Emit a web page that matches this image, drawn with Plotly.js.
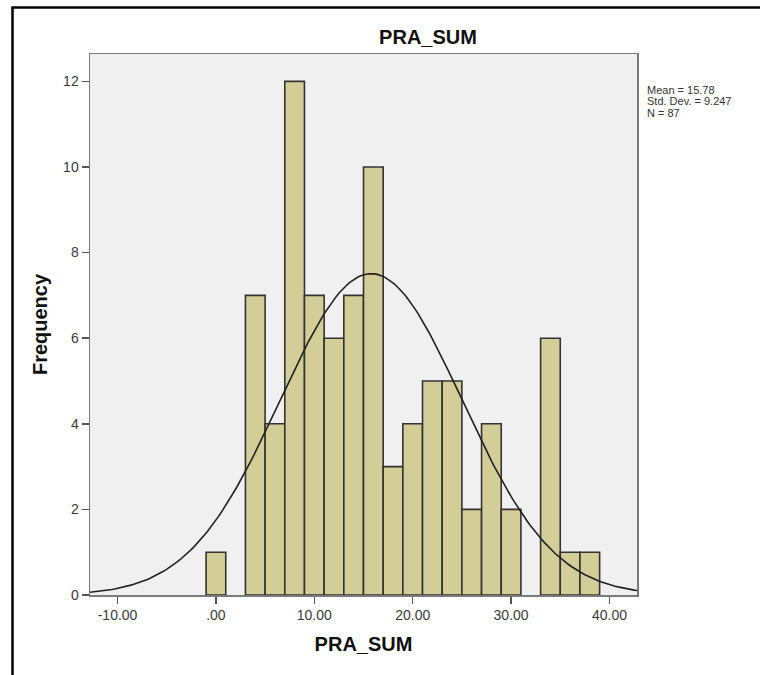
<!DOCTYPE html>
<html>
<head>
<meta charset="utf-8">
<script src="https://cdn.plot.ly/plotly-3.0.1.min.js"></script>
<style>html,body{margin:0;padding:0;background:#fff;}#chart{width:760px;height:675px;}</style>
</head>
<body>
<div id="chart"></div>
<script>
// Histogram bins (centres, width 2) and frequencies
var binCenters = [0, 4, 6, 8, 10, 12, 14, 16, 18, 20, 22, 24, 26, 28, 30, 34, 36, 38];
var frequencies = [1, 7, 4, 12, 7, 6, 7, 10, 3, 4, 5, 5, 2, 4, 2, 6, 1, 1];
var binWidth = 2;

// Summary statistics shown in the chart
var meanValue = 15.78;
var stdDev = 9.247;
var nCount = 87;
var statsLines = ["Mean = 15.78", "Std. Dev. = 9.247", "N = 87"];

// Axis ticks
var xTickVals = [-10, 0, 10, 20, 30, 40];
var xTickText = ["-10.00", ".00", "10.00", "20.00", "30.00", "40.00"];
var yTickVals = [0, 2, 4, 6, 8, 10, 12];
var yTickText = ["0", "2", "4", "6", "8", "10", "12"];

var xRange = [-12.8, 42.8];
var yRange = [0, 12.64];

// Fitted normal curve (scaled to counts) from the mean, std. dev. and N
var curveX = [], curveY = [];
for (var i = 0; i <= 200; i++) {
  var xv = xRange[0] + (xRange[1] - xRange[0]) * i / 200;
  curveX.push(xv);
  var z = (xv - meanValue) / stdDev;
  curveY.push(nCount * binWidth / (stdDev * Math.sqrt(2 * Math.PI)) * Math.exp(-0.5 * z * z));
}

var bars = {
  type: 'bar',
  x: binCenters,
  y: frequencies,
  width: binWidth,
  marker: {color: '#d3ce97', line: {color: '#333333', width: 1.6}},
  hoverinfo: 'x+y'
};
var curve = {
  type: 'scatter',
  mode: 'lines',
  x: curveX,
  y: curveY,
  line: {color: '#222222', width: 1.6},
  hoverinfo: 'skip'
};

var L = 90, R = 637, T = 54, B = 595;
function px2x(p) { return (p - L) / (R - L); }
function py2y(p) { return (B - p) / (B - T); }

var annotations = [];
var statY = [89.5, 101, 112.5];
for (var k = 0; k < statsLines.length; k++) {
  annotations.push({
    xref: 'paper', yref: 'paper', x: px2x(645), y: py2y(statY[k]),
    xanchor: 'left', yanchor: 'middle', showarrow: false,
    text: statsLines[k], font: {family: 'Liberation Sans, Arial, sans-serif', size: 11, color: '#333'}
  });
}

var layout = {
  width: 760, height: 675,
  margin: {l: L, r: 760 - R, t: T, b: 675 - B, pad: 0},
  paper_bgcolor: '#ffffff',
  plot_bgcolor: '#f0f0f0',
  showlegend: false,
  font: {family: 'Liberation Sans, Arial, sans-serif', color: '#333'},
  title: {
    text: '<b>PRA_SUM</b>',
    font: {family: 'Liberation Sans, Arial, sans-serif', size: 20, color: '#111'},
    xref: 'paper', x: px2x(428), xanchor: 'center',
    yref: 'container', y: 1 - 37 / 675, yanchor: 'middle'
  },
  xaxis: {
    range: xRange,
    tickvals: xTickVals, ticktext: xTickText,
    ticks: 'outside', ticklen: 7, tickwidth: 1.5, tickcolor: '#555',
    tickfont: {size: 14, color: '#3a3a3a'},
    showline: true, linecolor: '#7a7a7a', linewidth: 1.5, mirror: true,
    showgrid: false, zeroline: false,
    title: {text: '<b>PRA_SUM</b>', font: {size: 20, color: '#111'}, standoff: 14}
  },
  yaxis: {
    range: yRange,
    tickvals: yTickVals, ticktext: yTickText,
    ticks: 'outside', ticklen: 7, tickwidth: 1.5, tickcolor: '#555',
    tickfont: {size: 14, color: '#3a3a3a'},
    showline: true, linecolor: '#7a7a7a', linewidth: 1.5, mirror: true,
    showgrid: false, zeroline: false,
    title: {text: '<b>Frequency</b>', font: {size: 20, color: '#111'}, standoff: 10}
  },
  annotations: annotations,
  shapes: [
    {type: 'line', xref: 'paper', yref: 'paper', x0: px2x(12.5), x1: px2x(12.5), y0: py2y(675), y1: py2y(7.5), line: {color: '#000', width: 2.5}},
    {type: 'line', xref: 'paper', yref: 'paper', x0: px2x(11.3), x1: px2x(760), y0: py2y(7.5), y1: py2y(7.5), line: {color: '#000', width: 2.5}}
  ]
};

Plotly.newPlot('chart', [bars, curve], layout, {displayModeBar: false, staticPlot: true});
</script>
</body>
</html>
